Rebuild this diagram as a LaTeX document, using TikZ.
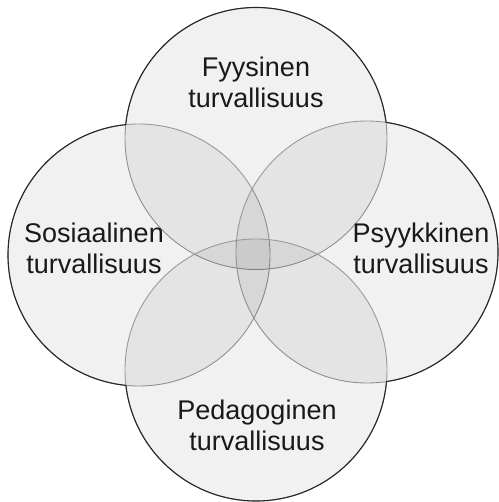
\documentclass[tikz,border=0pt]{standalone}
\usepackage{fontspec}
\setmainfont{Liberation Sans}
\begin{document}
\begin{tikzpicture}[x=1bp,y=-1bp,
  ring/.style={circle, minimum size=262bp, inner sep=0pt, draw=black!40, line width=0.9bp, fill=black, fill opacity=0.055},
  edge/.style={draw=black!85, line width=1.1bp},
  lbl/.style={align=center, text=black!90, font=\fontsize{27bp}{31bp}\selectfont, inner sep=0pt}]
\useasboundingbox (0,0) rectangle (499,502);
\coordinate (ct) at (256,138.5);
\coordinate (cl) at (139,255);
\coordinate (cr) at (367,252);
\coordinate (cb) at (256,370);
\node[ring] (top) at (ct) {};
\node[ring] (left) at (cl) {};
\node[ring] (right) at (cr) {};
\node[ring] (bottom) at (cb) {};
% outer outline
\def\outside#1{\clip (-20,-20) rectangle (520,522) (#1) circle[radius=131bp];}
\begin{scope}[even odd rule]\outside{cl}\outside{cr}\outside{cb}\draw[edge] (ct) circle[radius=131bp];\end{scope}
\begin{scope}[even odd rule]\outside{ct}\outside{cr}\outside{cb}\draw[edge] (cl) circle[radius=131bp];\end{scope}
\begin{scope}[even odd rule]\outside{ct}\outside{cl}\outside{cb}\draw[edge] (cr) circle[radius=131bp];\end{scope}
\begin{scope}[even odd rule]\outside{ct}\outside{cl}\outside{cr}\draw[edge] (cb) circle[radius=131bp];\end{scope}
\node[lbl, anchor=base] (tf) at (256,108) {Fyysinen\\turvallisuus};
\node[lbl, anchor=base] (ts) at (94,273) {Sosiaalinen\\turvallisuus};
\node[lbl, anchor=base] (tp) at (421,273) {Psyykkinen\\turvallisuus};
\node[lbl, anchor=base] (tg) at (257,450) {Pedagoginen\\turvallisuus};
\end{tikzpicture}
\end{document}
